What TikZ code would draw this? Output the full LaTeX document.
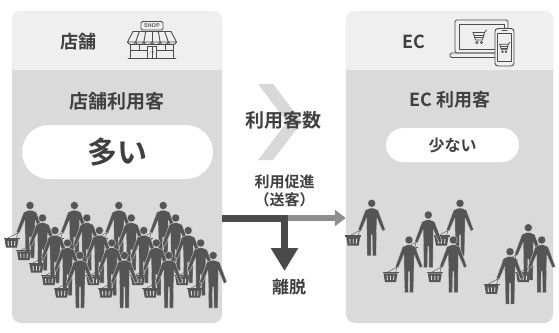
\documentclass[tikz,border=0pt]{standalone}
\usepackage{fontspec}
\newfontfamily\jp{Noto Sans CJK JP}[BoldFont={Noto Sans CJK JP Bold}]
\usetikzlibrary{arrows.meta}

\definecolor{hdrgray}{HTML}{EFEFEF}
\definecolor{panelgray}{HTML}{DADADA}
\definecolor{ink}{HTML}{404040}
\definecolor{figgray}{HTML}{555555}
\definecolor{icongray}{HTML}{4D4D4D}
\definecolor{chevgray}{HTML}{D8D8D8}
\definecolor{darkarrow}{HTML}{4A4A4A}
\definecolor{lightarrow}{HTML}{8E8E8E}

\tikzset{
  lbl/.style={text=ink, inner sep=0pt},
  jpfont/.style={font=\jp\bfseries\fontsize{#1}{#1}\selectfont},
  panel/.style={fill=panelgray, rounded corners=9pt, inner sep=0pt,
                minimum width=#1, minimum height=312pt},
  pill/.style={fill=white, inner sep=0pt, text=ink},
  iconline/.style={draw=icongray, line width=0.9pt, line join=round, line cap=round},
  % a standing shopper, origin at the centre of the head, basket on the left
  shopper/.pic={
    \fill[figgray, draw=panelgray, line width=0.3pt] (0,0) circle (4);
    \fill[figgray, draw=panelgray, line width=0.3pt]
      (-1.8,4.8) -- (-6.4,6.8) -- (-13.6,26.4) -- (-10.8,28) -- (-5.2,15)
      -- (-4.9,29) -- (-4.6,52.5) -- (-0.7,52.5) -- (-0.5,31.5) -- (0.5,31.5) -- (0.7,52.5)
      -- (4.6,52.5) -- (4.9,29) -- (5.2,15) -- (10.8,28) -- (13.6,26.4)
      -- (6.4,6.8) -- (1.8,4.8) -- cycle;
    \draw[figgray, line width=0.45pt] (-12.2,27.2) -- (-13.5,33) (-12.2,27.2) -- (-23,33);
    \fill[figgray] (-25.5,33.4) -- (-11.5,33.4) -- (-13,42.2) -- (-24,42.2) -- cycle;
    \draw[figgray, line width=1.2pt] (-26.5,32.6) -- (-10.5,32.6);
    \draw[panelgray, line width=0.9pt]
      (-21.9,35.6) -- (-21.6,40.2) (-18.5,35.6) -- (-18.5,40.2) (-15.1,35.6) -- (-15.4,40.2);
  },
  % small shopping cart, origin at its centre
  cart/.pic={
    \draw[iconline, line width=0.8pt] (-6.5,-5) -- (5,-5) -- (7,-7.5);
    \draw[iconline, line width=0.8pt] (-5.3,-2.4) -- (4.3,-2.4) (-4.5,0) -- (3.6,0);
    \draw[iconline, line width=0.8pt] (-6.5,-5) -- (-4,2.4) -- (3,2.4) -- (5,-5);
    \draw[iconline, line width=0.7pt] (-2.7,5) circle (1.2) (2,5) circle (1.2);
  }
}

\begin{document}
\begin{tikzpicture}[x=1pt, y=-1pt]
\useasboundingbox[fill=white] (0,0) rectangle (559,332);

% ---------- the two panels ----------
\node[panel=210pt] (store) at (117,167) {};
\node[panel=207pt] (ec) at (449.5,167) {};
\fill[hdrgray] (store.west |- 0,70) {[rounded corners=9pt] -- (store.north west) -- (store.north east)} -- (store.east |- 0,70) -- cycle;
\fill[hdrgray] (ec.west |- 0,70) {[rounded corners=9pt] -- (ec.north west) -- (ec.north east)} -- (ec.east |- 0,70) -- cycle;

% ---------- headers ----------
\node[lbl, jpfont=18] (storehdr) at (78,42) {店舗};
\node[lbl, jpfont=18] (echdr) at (413.5,42) {EC};

% shop icon
\begin{scope}[iconline]
  \draw (128,58.5) -- (176,58.5);
  \draw (130.5,44) rectangle (173.5,58.5);
  \draw (147.5,46.5) rectangle (156.5,58.5) (152,46.5) -- (152,58.5);
  \fill[icongray] (150.7,52) circle (0.5) (153.3,52) circle (0.5);
  \draw (130.5,50.5) -- (147.5,50.5) (156.5,50.5) -- (173.5,50.5);
  \draw (139,44) -- (139,50.5) (165,44) -- (165,50.5);
  \draw (133,31.5) -- (171,31.5) -- (176.5,42) -- (127.5,42) -- cycle;
  \foreach \i in {1,...,5}
    \draw ({133+\i*38/6},31.5) -- ({127.5+\i*49/6},42);
  \foreach \i in {0,...,5}
    \draw ({127.5+\i*49/6},42) .. controls ({127.5+\i*49/6},45.5) and ({127.5+(\i+1)*49/6},45.5) .. ({127.5+(\i+1)*49/6},42);
  \draw[fill=hdrgray, rounded corners=1.5pt] (141,21.5) rectangle (163,30);
\end{scope}
\node[inner sep=0pt, text=icongray, font=\sffamily\bfseries\fontsize{5.5}{5.5}\selectfont] (shoplbl) at (152,25.9) {SHOP};

% laptop and phone icon
\begin{scope}[iconline]
  \draw[rounded corners=1.5pt] (455,20) rectangle (508,53);
  \draw (459,24) rectangle (504,49.5);
  \draw[rounded corners=1.5pt] (450,53) -- (450,57.5) -- (497,57.5) -- (497,53) -- cycle;
  \draw[fill=hdrgray, rounded corners=3pt] (495,28.5) rectangle (514,66);
  \draw (497.5,33) rectangle (511.5,61.5);
  \draw (502,30.8) -- (507,30.8);
\end{scope}
\pic at (479.5,37.5) {cart};
\pic[scale=0.75] at (504.5,48) {cart};

% ---------- customer labels ----------
\node[lbl, jpfont=19] (storeusers) at (117,101) {店舗利用客};
\node[lbl, jpfont=18] (ecusers) at (450,100) {EC 利用客};
\node[pill, rounded corners=27pt, minimum width=191pt, minimum height=54pt, jpfont=30] (many) at (117.5,152) {多い};
\node[pill, rounded corners=17pt, minimum width=133pt, minimum height=34pt, jpfont=16] (few) at (452.5,145) {少ない};

% ---------- comparison ----------
\fill[chevgray] (258,84) -- (273,84) -- (302,122) -- (273,160) -- (258,160) -- (287,122) -- cycle;
\node[lbl, jpfont=19] (count) at (283.5,120) {利用客数};
\node[lbl, jpfont=15] (promo) at (284.5,182) {利用促進};
\node[lbl, jpfont=15] (promo2) at (284.5,199.5) {（送客）};
\node[lbl, jpfont=17] (leave) at (289,287) {離脱};

% ---------- flows ----------
\coordinate (split) at (284.5,218);
\coordinate (drop) at (284.5,271);
\draw[lightarrow, line width=6pt, -{Triangle[length=11pt, width=16pt]}] (split) -- (ec.west |- split);
\draw[darkarrow, line width=7pt, line join=miter, -{Triangle[length=23pt, width=26pt]}]
  (store.east |- split) -- (split) -- (drop);

% ---------- shoppers: store crowd, back rows first ----------
\foreach \k in {0,...,4}
  \foreach \d in {0,...,3}
    \pic at ({30+44.4*\d+12.5*\k},{205.5+12.5*\k}) {shopper};

% ---------- shoppers: EC ----------
\foreach \px/\py in {371.7/203.3, 460/203.3, 428.3/215, 528.3/227.7, 409/240, 453.3/240, 541.7/240, 510/251.7}
  \pic at (\px,\py) {shopper};
\end{tikzpicture}
\end{document}
